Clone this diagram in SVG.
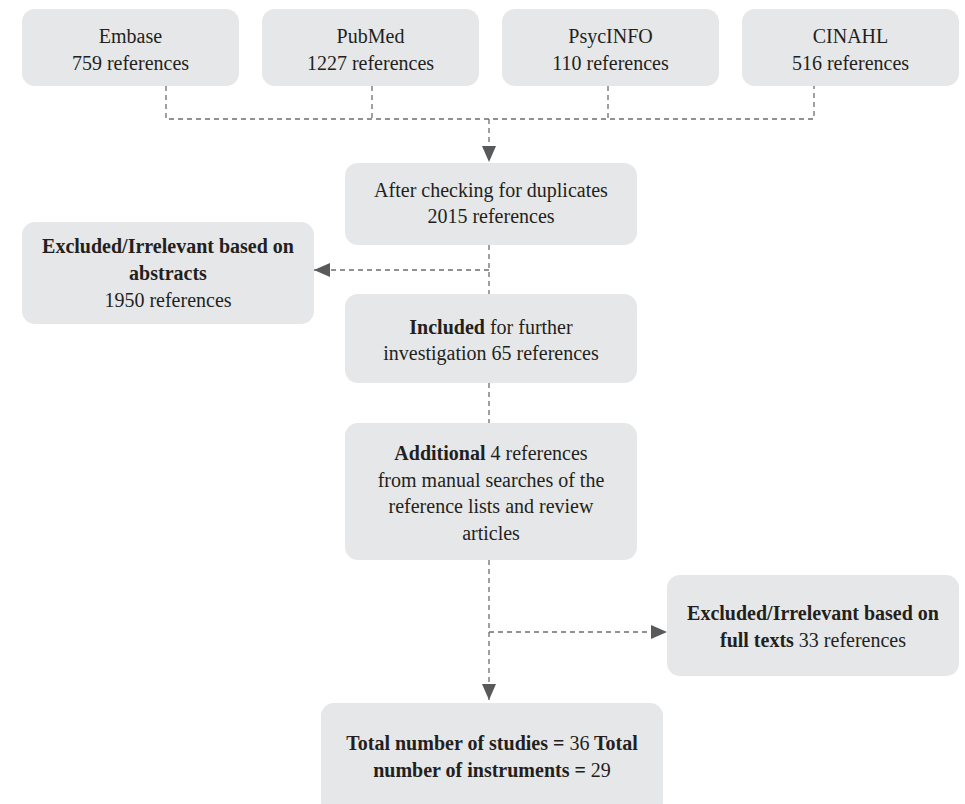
<svg xmlns="http://www.w3.org/2000/svg" width="965" height="804" viewBox="0 0 965 804">
<defs>
<style>
.box{fill:#e6e7e8;}
.t{font-size:20px;fill:#231f20;text-anchor:middle;}
.b{font-weight:bold;}
.c{fill:none;stroke:#6d6e71;stroke-width:1.3;stroke-dasharray:5 4;}
</style>
<marker id="ah" markerUnits="userSpaceOnUse" markerWidth="16" markerHeight="14" refX="16" refY="7" orient="auto">
<path d="M0,0 L16,7 L0,14 z" fill="#58595b"/>
</marker>
</defs>
<rect width="965" height="804" fill="#ffffff"/>
<g id="connectors">
<path class="c" d="M166,86 V119 H814 V86 M372,86 V119 M608,86 V119"/>
<path class="c" d="M489,119 V162" marker-end="url(#ah)"/>
<path class="c" d="M489,245 V294"/>
<path class="c" d="M489,270 H314" marker-end="url(#ah)"/>
<path class="c" d="M489,383 V423"/>
<path class="c" d="M489,560 V700" marker-end="url(#ah)"/>
<path class="c" d="M489,632 H667" marker-end="url(#ah)"/>
</g>
<g font-family="Liberation Serif, Times New Roman, serif">
<g id="embase">
<rect class="box" x="22" y="9" width="217" height="77" rx="13"/>
<text class="t" x="130.5" y="43">Embase</text>
<text class="t" x="130.5" y="70">759 references</text>
</g>
<g id="pubmed">
<rect class="box" x="262" y="9" width="217" height="77" rx="13"/>
<text class="t" x="370.5" y="43">PubMed</text>
<text class="t" x="370.5" y="70">1227 references</text>
</g>
<g id="psycinfo">
<rect class="box" x="502" y="9" width="217" height="77" rx="13"/>
<text class="t" x="610.5" y="43">PsycINFO</text>
<text class="t" x="610.5" y="70">110 references</text>
</g>
<g id="cinahl">
<rect class="box" x="742" y="9" width="217" height="77" rx="13"/>
<text class="t" x="850.5" y="43">CINAHL</text>
<text class="t" x="850.5" y="70">516 references</text>
</g>
<g id="duplicates">
<rect class="box" x="345" y="163" width="292" height="82" rx="13"/>
<text class="t" x="491" y="197">After checking for duplicates</text>
<text class="t" x="491" y="223">2015 references</text>
</g>
<g id="excluded-abstracts">
<rect class="box" x="22" y="222" width="292" height="102" rx="13"/>
<text class="t b" x="168" y="253">Excluded/Irrelevant based on</text>
<text class="t b" x="168" y="280">abstracts</text>
<text class="t" x="168" y="307">1950 references</text>
</g>
<g id="included">
<rect class="box" x="345" y="294" width="292" height="89" rx="13"/>
<text class="t" x="491" y="334"><tspan class="b">Included</tspan> for further</text>
<text class="t" x="491" y="360">investigation 65 references</text>
</g>
<g id="additional">
<rect class="box" x="345" y="423" width="292" height="137" rx="13"/>
<text class="t" x="491" y="460"><tspan class="b">Additional</tspan> 4 references</text>
<text class="t" x="491" y="487">from manual searches of the</text>
<text class="t" x="491" y="513">reference lists and review</text>
<text class="t" x="491" y="540">articles</text>
</g>
<g id="excluded-fulltexts">
<rect class="box" x="667" y="575" width="292" height="101" rx="13"/>
<text class="t b" x="813" y="620">Excluded/Irrelevant based on</text>
<text class="t" x="813" y="647"><tspan class="b">full texts</tspan> 33 references</text>
</g>
<g id="total">
<rect class="box" x="321" y="703" width="342" height="112" rx="13"/>
<text class="t b" x="492" y="750">Total number of studies = <tspan font-weight="normal">36</tspan> Total</text>
<text class="t b" x="492" y="777">number of instruments = <tspan font-weight="normal">29</tspan></text>
</g>
</g>
</svg>
